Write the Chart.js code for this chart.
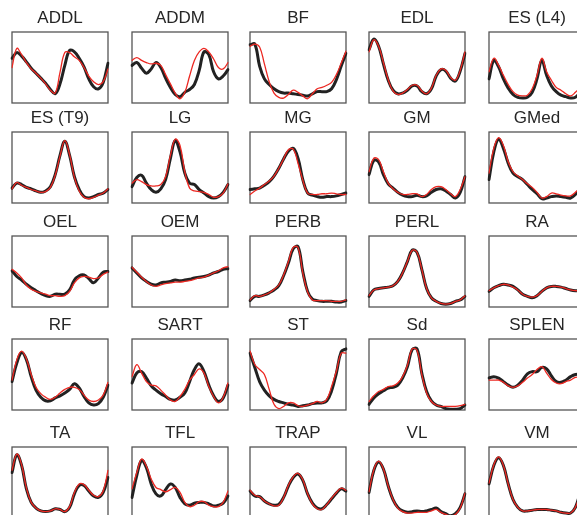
<!DOCTYPE html>
<html>
<head>
<meta charset="utf-8">
<script src="https://cdn.jsdelivr.net/npm/chart.js@4/dist/chart.umd.min.js"></script>
<style>
  body { margin: 0; background: #fff; overflow: hidden; }
  #grid { position: relative; width: 577px; height: 515px; }
  #grid canvas { position: absolute; }
</style>
</head>
<body>
<div id="grid"></div>
<script>
// % of cycle, one sample every 5%
var cycle = [0, 5, 10, 15, 20, 25, 30, 35, 40, 45, 50, 55, 60, 65, 70, 75, 80, 85, 90, 95, 100];

var muscles = ['ADDL', 'ADDM', 'BF', 'EDL', 'ES (L4)',
               'ES (T9)', 'LG', 'MG', 'GM', 'GMed',
               'OEL', 'OEM', 'PERB', 'PERL', 'RA',
               'RF', 'SART', 'ST', 'Sd', 'SPLEN',
               'TA', 'TFL', 'TRAP', 'VL', 'VM'];

// normalised activation (0-100), black = thick curve, red = thin curve
var ADDL_k  = [63,71,66,58,49,42,35,28,19,13,27,53,74,72,63,51,34,23,20,29,56];
var ADDL_r  = [50,77,68,57,48,42,35,27,18,14,43,71,71,65,60,50,38,30,26,30,48];
var ADDM_k  = [53,57,49,42,48,57,50,35,22,12,9,15,19,26,46,72,68,44,34,38,47];
var ADDM_r  = [60,64,60,57,55,56,53,40,27,14,6,15,38,60,72,77,72,62,50,48,57];
var BF_k    = [82,83,52,34,26,20,16,14,14,13,12,11,10,13,16,16,16,20,33,52,70];
var BF_r    = [80,83,79,55,30,14,8,7,12,18,15,10,6,13,20,22,25,29,40,56,73];
var EDL_k   = [75,90,80,55,32,18,13,14,18,24,24,16,13,20,38,47,45,35,31,45,70];
var EDL_r   = [72,89,80,57,33,17,12,14,19,25,25,17,13,21,39,48,46,36,32,46,72];
var ESL4_k  = [34,60,51,34,21,12,8,7,8,15,34,60,39,24,16,11,9,7,8,15,25];
var ESL4_r  = [44,63,53,39,26,16,11,10,11,20,39,63,44,32,22,18,13,10,15,22,30];

var EST9_k  = [21,28,26,22,20,17,15,17,23,40,67,87,67,37,19,9,7,9,12,14,19];
var EST9_r  = [20,29,25,22,19,17,15,16,22,39,66,88,68,36,17,8,6,8,11,14,20];
var LG_k    = [23,36,39,28,19,15,20,33,63,88,72,42,28,26,19,14,9,7,9,15,26];
var LG_r    = [28,33,30,26,24,24,26,37,67,90,81,44,21,17,16,15,12,8,9,14,27];
var MG_k    = [19,20,21,25,30,38,49,62,73,77,63,33,14,11,9,8,9,9,10,12,14];
var MG_r    = [12,17,21,26,31,38,49,62,75,76,56,32,14,12,12,13,13,14,13,12,12];
var GM_k    = [40,60,58,40,27,21,15,11,9,9,11,9,10,15,19,20,17,12,7,15,37];
var GM_r    = [44,63,61,44,28,20,15,12,12,13,13,9,12,19,23,23,19,13,9,19,37];
var GMed_k  = [33,72,90,77,56,42,37,33,26,19,13,6,7,9,10,9,8,7,12,20,30];
var GMed_r  = [42,77,92,81,58,44,38,33,27,22,15,7,9,14,13,11,10,10,15,22,30];

var OEL_k   = [51,43,38,32,27,23,19,16,15,18,18,18,24,38,44,45,40,34,41,49,50];
var OEL_r   = [53,48,41,31,25,22,20,18,16,16,15,16,22,34,41,43,42,40,41,46,49];
var OEM_k   = [55,48,41,36,32,31,34,35,36,38,37,38,39,41,42,43,45,48,50,53,54];
var OEM_r   = [56,49,42,36,31,29,31,33,34,35,35,36,37,39,41,42,45,48,51,55,57];
var PERB_k  = [9,15,15,17,20,24,30,44,62,82,85,50,22,11,9,8,8,8,7,7,9];
var PERB_r  = [10,16,15,17,20,25,31,45,64,84,84,48,21,10,9,9,9,8,8,8,10];
var PERL_k  = [15,24,26,27,28,30,36,48,64,80,77,53,26,13,8,5,4,5,8,10,15];
var PERL_r  = [16,24,26,27,28,30,36,48,64,80,77,53,26,13,8,5,4,5,8,10,16];
var RA_k    = [22,27,30,32,31,29,24,18,15,13,16,22,27,29,29,28,26,24,23,23,24];
var RA_r    = [23,27,30,32,31,28,24,18,15,14,16,22,27,29,29,28,26,24,23,23,24];

var RF_k    = [40,66,81,71,47,28,18,13,13,17,20,24,29,37,31,19,10,7,9,18,35];
var RF_r    = [42,71,83,72,50,32,23,18,15,18,24,29,32,32,29,21,14,12,14,21,39];
var SART_k  = [38,52,54,45,34,28,23,19,15,14,18,24,40,57,65,54,35,20,12,17,35];
var SART_r  = [47,64,52,40,35,34,28,21,14,12,19,29,42,50,58,52,33,19,10,18,38];
var ST_k    = [80,60,40,28,20,15,12,10,8,7,5,6,7,9,10,10,13,27,52,82,86];
var ST_r    = [83,64,57,50,29,8,2,5,10,10,6,5,7,9,12,10,15,33,55,80,80];
var Sd_k    = [8,17,23,27,31,32,35,45,61,85,86,52,26,13,7,5,2,1,1,2,7];
var Sd_r    = [12,20,26,29,33,34,38,47,63,86,84,50,24,12,7,5,5,5,5,6,8];
var SPLEN_k = [45,47,45,40,35,32,35,42,51,54,54,60,58,48,40,39,42,47,50,50,48];
var SPLEN_r = [42,42,42,39,34,32,34,39,45,50,57,61,52,43,38,37,40,42,46,46,45];

var TA_k    = [64,89,74,41,22,14,10,9,10,13,12,9,15,34,46,46,38,31,29,36,57];
var TA_r    = [67,90,75,42,22,14,10,9,10,13,12,9,16,36,48,47,39,32,30,38,67];
var TFL_k   = [29,60,81,71,48,34,31,40,48,43,29,20,18,21,22,22,20,17,18,21,31];
var TFL_r   = [41,64,83,73,55,43,40,37,40,43,36,22,16,18,23,23,18,16,16,22,38];
var TRAP_k  = [38,31,30,24,20,18,19,29,45,57,62,53,34,21,14,13,19,27,35,41,38];
var TRAP_r  = [39,32,30,24,20,17,18,29,46,58,63,54,34,20,13,12,19,28,36,42,39];
var VL_k    = [36,67,79,69,45,26,15,10,8,9,10,9,10,12,14,9,6,3,6,15,34];
var VL_r    = [37,68,80,69,45,26,14,9,7,7,8,8,8,10,12,8,5,3,5,14,35];
var VM_k    = [48,74,85,74,48,26,15,10,10,11,12,12,12,11,10,8,7,7,15,35,50];
var VM_r    = [49,75,86,74,48,26,15,10,10,11,12,12,12,11,10,8,7,7,15,35,50];

var series = [
  [ADDL_k, ADDL_r], [ADDM_k, ADDM_r], [BF_k, BF_r], [EDL_k, EDL_r], [ESL4_k, ESL4_r],
  [EST9_k, EST9_r], [LG_k, LG_r], [MG_k, MG_r], [GM_k, GM_r], [GMed_k, GMed_r],
  [OEL_k, OEL_r], [OEM_k, OEM_r], [PERB_k, PERB_r], [PERL_k, PERL_r], [RA_k, RA_r],
  [RF_k, RF_r], [SART_k, SART_r], [ST_k, ST_r], [Sd_k, Sd_r], [SPLEN_k, SPLEN_r],
  [TA_k, TA_r], [TFL_k, TFL_r], [TRAP_k, TRAP_r], [VL_k, VL_r], [VM_k, VM_r]
];

// panel frame positions in the page
var colLeft = [12, 132, 250, 369, 489];
var rowTop = [32, 132, 236, 339, 447];
var boxW = 96, boxH = 71, titleH = 30, pad = 3;

// draws the box round each panel
var framePlugin = {
  id: 'frame',
  beforeDatasetsDraw: function(chart) {
    var a = chart.chartArea, ctx = chart.ctx;
    ctx.save();
    ctx.strokeStyle = '#555';
    ctx.lineWidth = 1.3;
    ctx.strokeRect(a.left, a.top, a.right - a.left, a.bottom - a.top);
    ctx.restore();
  }
};

var grid = document.getElementById('grid');

muscles.forEach(function(name, i) {
  var row = Math.floor(i / 5), col = i % 5;
  var canvas = document.createElement('canvas');
  canvas.width = boxW + 2 * pad;
  canvas.height = boxH + titleH + pad;
  canvas.style.left = (colLeft[col] - pad) + 'px';
  canvas.style.top = (rowTop[row] - titleH) + 'px';
  grid.appendChild(canvas);

  new Chart(canvas.getContext('2d'), {
    type: 'line',
    data: {
      labels: cycle,
      datasets: [{
        data: series[i][0],
        borderColor: '#222',
        borderWidth: 3,
        order: 2
      }, {
        data: series[i][1],
        borderColor: 'rgb(236,40,34)',
        borderWidth: 1.3,
        order: 1
      }]
    },
    options: {
      responsive: false,
      animation: false,
      events: [],
      layout: { padding: { left: pad, right: pad, top: 0, bottom: pad } },
      elements: {
        point: { radius: 0 },
        line: { tension: 0.4, borderCapStyle: 'round', borderJoinStyle: 'round' }
      },
      plugins: {
        legend: { display: false },
        tooltip: { enabled: false },
        title: {
          display: true,
          text: name,
          color: '#262626',
          font: { family: '"Liberation Sans", Arial, sans-serif', size: 17, weight: 'normal', lineHeight: 1.2 },
          padding: { top: 6, bottom: 3.6 }
        }
      },
      scales: {
        x: { display: false },
        y: { display: false, min: 0, max: 100 }
      }
    },
    plugins: [framePlugin]
  });
});
</script>
</body>
</html>
